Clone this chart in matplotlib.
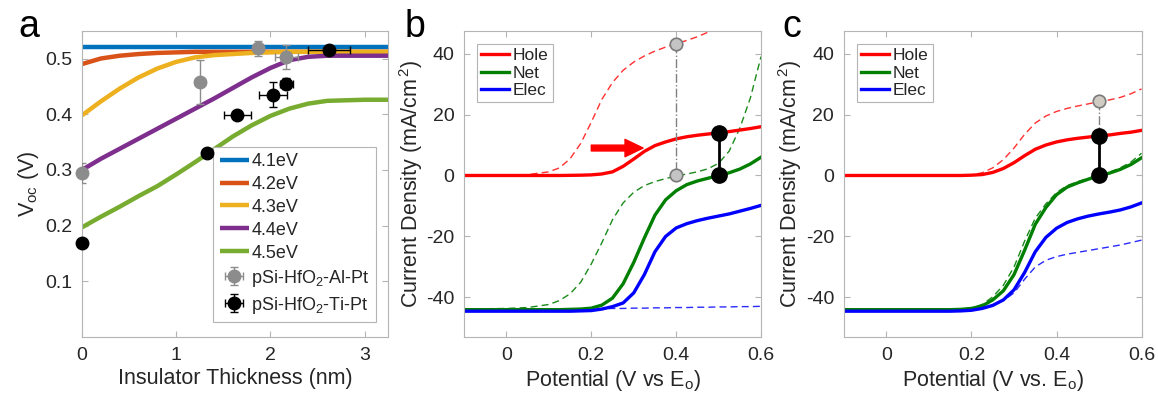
import numpy as np
import matplotlib
matplotlib.use('Agg')
import matplotlib.pyplot as plt

plt.rcParams['font.family'] = ['Liberation Sans', 'DejaVu Sans']
plt.rcParams['mathtext.fontset'] = 'custom'
plt.rcParams['mathtext.rm'] = 'Liberation Sans'
plt.rcParams['mathtext.it'] = 'Liberation Sans'
plt.rcParams['mathtext.default'] = 'regular'
plt.rcParams['axes.unicode_minus'] = False

TXT = '#262626'
EDGE = '#b4b4b4'

# ---- panel a : Voc vs insulator thickness ----
thk = [0, 0.2, 0.4, 0.6, 0.8, 1.0, 1.2, 1.4, 1.6, 1.8, 2.0, 2.2, 2.4, 2.6, 2.8, 3.0, 3.25]
v41 = [0.520] * 17
v42 = [0.490, 0.500, 0.505, 0.508, 0.510, 0.511, 0.512, 0.512, 0.512, 0.512, 0.512, 0.512, 0.512, 0.512, 0.512, 0.512, 0.512]
v43 = [0.398, 0.423, 0.446, 0.466, 0.482, 0.494, 0.502, 0.506, 0.508, 0.510, 0.511, 0.512, 0.512, 0.512, 0.512, 0.512, 0.512]
v44 = [0.300, 0.320, 0.338, 0.356, 0.374, 0.392, 0.410, 0.428, 0.447, 0.466, 0.483, 0.497, 0.503, 0.505, 0.505, 0.505, 0.505]
v45 = [0.197, 0.216, 0.234, 0.253, 0.271, 0.292, 0.314, 0.337, 0.360, 0.380, 0.397, 0.410, 0.419, 0.424, 0.425, 0.426, 0.426]
wf_labels = ['4.1eV', '4.2eV', '4.3eV', '4.4eV', '4.5eV']
wf_colors = ['#0072BD', '#D95319', '#EDB120', '#7E2F8E', '#77AC30']

al_x = [0.0, 1.25, 1.87, 2.17]
al_y = [0.294, 0.458, 0.518, 0.503]
al_xerr = [0.0, 0.05, 0.05, 0.12]
al_yerr = [0.018, 0.040, 0.013, 0.022]

ti_x = [0.0, 1.33, 1.65, 2.03, 2.17, 2.62]
ti_y = [0.169, 0.330, 0.399, 0.435, 0.455, 0.515]
ti_xerr = [0.0, 0.05, 0.14, 0.15, 0.07, 0.22]
ti_yerr = [0.0, 0.005, 0.004, 0.022, 0.010, 0.006]

# ---- panels b, c : current density vs potential ----
pot = [-0.1, 0.0, 0.05, 0.1, 0.125, 0.15, 0.175, 0.2, 0.225, 0.25, 0.275, 0.3,
       0.325, 0.35, 0.375, 0.4, 0.425, 0.45, 0.475, 0.5, 0.525, 0.55, 0.575, 0.6]

hole_b = [0, 0, 0, 0, 0, 0.05, 0.1, 0.2, 0.5, 1.2, 3.0, 5.4, 7.9, 9.8, 11.0, 12.0, 12.7, 13.2, 13.6, 14.0, 14.4, 14.9, 15.4, 16.0]
hole_b_d = [0, 0.1, 0.3, 1.2, 2.5, 5.5, 10.5, 17.5, 25.0, 30.5, 34.5, 37.2, 39.2, 40.8, 42.1, 43.2, 44.3, 45.5, 47.0, 48.5, 50.0, 51.5, 53.0, 54.5]
net_b = [-44.0, -44.0, -44.0, -44.0, -44.0, -43.9, -43.8, -43.5, -42.5, -40.2, -35.5, -28.5, -20.5, -13.0, -8.0, -5.0, -3.0, -1.8, -0.9, 0.0, 0.9, 2.1, 3.8, 6.0]
net_b_d = [-43.8, -43.6, -43.3, -42.3, -41.0, -38.8, -35.0, -29.0, -22.0, -14.5, -9.0, -5.5, -3.3, -2.0, -1.0, -0.2, 0.5, 1.2, 2.2, 4.0, 8.0, 15.5, 25.5, 39.0]
elec_b = [-44.5, -44.5, -44.5, -44.5, -44.5, -44.5, -44.4, -44.3, -43.8, -43.0, -41.8, -38.5, -32.5, -25.0, -20.0, -17.2, -15.8, -14.8, -14.0, -13.3, -12.6, -11.7, -10.8, -9.8]
elec_b_d = [-44.3, -44.1, -44.0, -43.9, -43.9, -43.8, -43.8, -43.7, -43.7, -43.6, -43.6, -43.5, -43.5, -43.4, -43.4, -43.3, -43.3, -43.2, -43.2, -43.1, -43.1, -43.0, -43.0, -42.9]

hole_c = [0, 0, 0, 0, 0, 0, 0, 0.1, 0.3, 1.0, 2.3, 4.2, 6.5, 8.6, 10.0, 11.0, 11.7, 12.2, 12.6, 13.0, 13.3, 13.8, 14.2, 14.8]
hole_c_d = [0, 0, 0, 0, 0, 0, 0, 0.2, 0.9, 2.5, 5.2, 9.0, 13.5, 17.2, 19.5, 21.0, 22.0, 22.8, 23.5, 24.2, 24.8, 25.6, 26.8, 28.4]
net_c = [-44.0, -44.0, -44.0, -44.0, -44.0, -44.0, -43.9, -43.6, -42.8, -40.8, -37.8, -32.5, -24.5, -16.0, -10.5, -6.3, -3.8, -2.4, -1.2, -0.1, 0.8, 2.0, 3.6, 5.8]
net_c_d = [-44.0, -44.0, -44.0, -44.0, -44.0, -44.0, -43.8, -43.4, -42.3, -39.8, -36.0, -30.0, -21.5, -14.0, -9.3, -5.6, -3.3, -2.0, -0.9, 0.1, 1.1, 2.5, 4.4, 7.3]
elec_c = [-44.5, -44.5, -44.5, -44.5, -44.5, -44.5, -44.4, -44.2, -43.6, -42.6, -40.8, -37.5, -31.8, -25.0, -20.3, -17.3, -15.4, -14.2, -13.3, -12.6, -12.0, -11.3, -10.3, -9.0]
elec_c_d = [-44.5, -44.5, -44.5, -44.5, -44.5, -44.5, -44.4, -44.2, -43.6, -42.6, -41.0, -38.5, -34.0, -30.0, -27.8, -26.6, -25.8, -25.2, -24.6, -24.0, -23.4, -22.8, -22.0, -21.2]

# markers (potential, current)
b_gray = ([0.4, 0.4], [43.2, 0.0])
b_black = ([0.5, 0.5], [14.0, 0.0])
c_gray = ([0.5], [24.3])
c_black = ([0.5, 0.5], [13.0, 0.0])


def style_axes(ax):
  for s in ax.spines.values():
    s.set_color(EDGE)
    s.set_linewidth(0.8)
  ax.tick_params(direction='in', length=4, width=0.8, color=EDGE,
                 top=True, right=True, labelsize=14, labelcolor=TXT, pad=7)


fig = plt.figure(figsize=(11.58, 3.98), dpi=100)
axa = fig.add_axes([0.0708, 0.153, 0.2645, 0.77])
axb = fig.add_axes([0.4007, 0.153, 0.2565, 0.77])
axc = fig.add_axes([0.7288, 0.153, 0.2570, 0.77])

# panel a
for yv, lab, col in zip([v41, v42, v43, v44, v45], wf_labels, wf_colors):
  axa.plot(thk, yv, color=col, lw=3.2, label=lab, solid_capstyle='butt')
ea = axa.errorbar(al_x, al_y, xerr=al_xerr, yerr=al_yerr, fmt='o', color='#8c8c8c',
                  ms=9, capsize=3, elinewidth=1, label='pSi-HfO$_2$-Al-Pt', zorder=5)
et = axa.errorbar(ti_x, ti_y, xerr=ti_xerr, yerr=ti_yerr, fmt='o', color='black',
                  ms=9, capsize=3, elinewidth=1, label='pSi-HfO$_2$-Ti-Pt', zorder=6)
ea[0].set_clip_on(False)
et[0].set_clip_on(False)
axa.set_xlim(0, 3.25)
axa.set_ylim(0, 0.55)
axa.set_xticks([0, 1, 2, 3])
axa.set_yticks([0.1, 0.2, 0.3, 0.4, 0.5])
axa.set_xlabel('Insulator Thickness (nm)', fontsize=15.5, color=TXT, labelpad=3)
axa.set_ylabel('V$_{oc}$ (V)', fontsize=15.5, color=TXT, labelpad=3)
leg = axa.legend(loc='lower right', fontsize=13, handlelength=1.6, handletextpad=0.15,
                 labelspacing=0.33, borderpad=0.35, fancybox=False, edgecolor=EDGE,
                 framealpha=1, bbox_to_anchor=(0.99, 0.02))
leg.get_frame().set_linewidth(0.8)
for t in leg.get_texts():
  t.set_color(TXT)
style_axes(axa)


def iv_panel(ax, hole, hole_d, net, net_d, elec, elec_d, xlab):
  ax.plot(pot, hole_d, '--', color='#ff3030', lw=1, dashes=(5, 3))
  ax.plot(pot, net_d, '--', color='#1a8a1a', lw=1, dashes=(5, 3))
  ax.plot(pot, elec_d, '--', color='#2a2aff', lw=1, dashes=(5, 3))
  ax.plot(pot, hole, color='#ff0000', lw=2.4, label='Hole')
  ax.plot(pot, net, color='#007f00', lw=2.4, label='Net')
  ax.plot(pot, elec, color='#0000ff', lw=2.4, label='Elec')
  ax.set_xlim(-0.1, 0.6)
  ax.set_ylim(-53, 47.5)
  ax.set_xticks([0, 0.2, 0.4, 0.6])
  ax.set_xticklabels(['0', '0.2', '0.4', '0.6'])
  ax.set_yticks([-40, -20, 0, 20, 40])
  ax.set_xlabel(xlab, fontsize=15.5, color=TXT, labelpad=3)
  ax.set_ylabel('Current Density (mA/cm$^{\\,2}$)', fontsize=15.5, color=TXT, labelpad=1)
  lg = ax.legend(loc='upper left', fontsize=12.5, handlelength=1.6, handletextpad=0.2,
                 labelspacing=0.12, borderpad=0.25, fancybox=False, edgecolor=EDGE,
                 framealpha=1, bbox_to_anchor=(0.015, 0.985))
  lg.get_frame().set_linewidth(0.8)
  for t in lg.get_texts():
    t.set_color(TXT)
  style_axes(ax)


iv_panel(axb, hole_b, hole_b_d, net_b, net_b_d, elec_b, elec_b_d, 'Potential (V vs E$_o$)')
axb.plot(b_gray[0], b_gray[1], '-.', color='#808080', lw=1, zorder=4)
axb.plot(b_gray[0], b_gray[1], 'o', ms=9, mfc='#c4c4c4', mec='#7a7a7a', mew=1.2, zorder=5)
axb.plot(b_black[0], b_black[1], '-', color='black', lw=2, zorder=4)
axb.plot(b_black[0], b_black[1], 'o', ms=11, color='black', zorder=5)
axb.annotate('', xy=(0.322, 9.0), xytext=(0.2, 9.0),
             arrowprops=dict(arrowstyle='simple,head_width=1.25,head_length=1.3,tail_width=0.42',
                             color='#ff0000', mutation_scale=10, shrinkA=0, shrinkB=0))

iv_panel(axc, hole_c, hole_c_d, net_c, net_c_d, elec_c, elec_c_d, 'Potential (V vs. E$_o$)')
axc.plot([c_gray[0][0], c_black[0][0]], [c_gray[1][0], c_black[1][0]], '-.', color='#808080', lw=1, zorder=4)
axc.plot(c_gray[0], c_gray[1], 'o', ms=9, mfc='#d0ccc4', mec='#7a7a7a', mew=1.2, zorder=5)
axc.plot(c_black[0], c_black[1], '-', color='black', lw=2, zorder=4)
axc.plot(c_black[0], c_black[1], 'o', ms=11, color='black', zorder=5)

fig.text(18 / 1158, 1 - 37 / 398, 'a', fontsize=27, color='black')
fig.text(405 / 1158, 1 - 37 / 398, 'b', fontsize=27, color='black')
fig.text(782 / 1158, 1 - 37 / 398, 'c', fontsize=27, color='black')

fig.savefig('out.png', dpi=100)
